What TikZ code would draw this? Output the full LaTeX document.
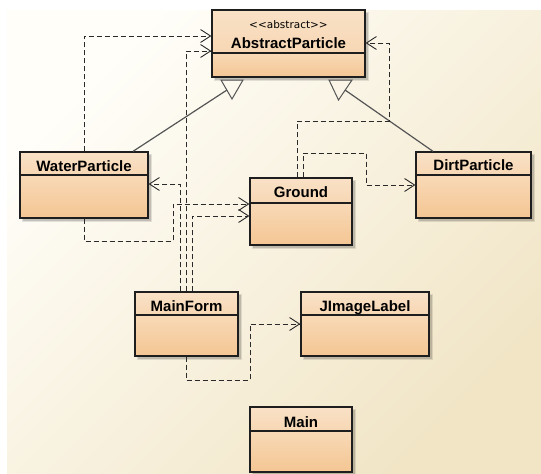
\documentclass[tikz,border=0pt]{standalone}
\usepackage{fontspec}
\setmainfont{Liberation Sans}
\newfontfamily\stereofont{DejaVu Sans}
\usetikzlibrary{arrows.meta}
\definecolor{bgA}{HTML}{FFFEF9}
\definecolor{bgB}{HTML}{F1E5C6}
\definecolor{headtop}{HTML}{F9E1C6}
\definecolor{headbot}{HTML}{F7D7B4}
\definecolor{bodytop}{HTML}{F8D9B7}
\definecolor{bodybot}{HTML}{F4C693}
\definecolor{boxc}{HTML}{1E1E1E}
\definecolor{depc}{HTML}{2A2A2A}
\definecolor{genc}{HTML}{555555}
\tikzset{
  dep/.style={depc, line width=0.9pt, dash pattern=on 5pt off 3pt,
    -{Straight Barb[length=10pt,width=13pt,line width=0.9pt]}},
  gen/.style={genc, line width=1.2pt},
  gentri/.style={genc, line width=1pt, line join=miter},
  namefont/.style={font=\fontsize{15}{17}\selectfont\bfseries, anchor=base, inner sep=0pt, text=black},
  stereo/.style={font=\stereofont\fontsize{10.5}{12}\selectfont, anchor=base, inner sep=0pt, text=black},
  classframe/.style={draw=boxc, line width=1.3pt, inner sep=0pt, fill=none}
}
% #1 name, #2 x1, #3 y1, #4 x2, #5 y2, #6 divider y, #7 baseline y, #8 label
\newcommand\umlclass[8]{%
  \fill[black,opacity=.10] (#2+1.5,#3+1.5) rectangle (#4+4,#5+4);
  \fill[black,opacity=.14] (#2+2.5,#3+2.5) rectangle (#4+2.5,#5+2.5);
  \shade[top color=bodytop, bottom color=bodybot] (#2,#6) rectangle (#4,#5);
  \shade[top color=headtop, bottom color=headbot] (#2,#3) rectangle (#4,#6);
  \draw[boxc, line width=1.2pt] (#2,#6) -- (#4,#6);
  \node[classframe, minimum width={#4pt-#2pt}, minimum height={#5pt-#3pt}] (#1) at ({(#2+#4)/2},{(#3+#5)/2}) {};
  \node[namefont] (#1-name) at ({(#2+#4)/2},#7) {#8};
}
\begin{document}
\begin{tikzpicture}[x=1pt,y=-1pt]
\useasboundingbox (0,0) rectangle (541,474);
\fill[white] (0,0) rectangle (541,474);
\shade[top color=bgA, bottom color=bgB, shading angle=45] (7,10) rectangle (541,474);

% classes
\umlclass{ap}{212}{10}{365}{77}{53}{48}{AbstractParticle}
\node[stereo] (ap-st) at (288.5,28) {<{}<abstract>{}>};
\umlclass{wp}{20}{152}{148}{218}{175}{171}{WaterParticle}
\umlclass{gr}{250}{178}{352}{245}{203}{197}{Ground}
\umlclass{dp}{416}{152}{531}{218}{175}{170}{DirtParticle}
\umlclass{mf}{135}{292}{238}{356}{315}{311}{MainForm}
\umlclass{jl}{301}{292}{429}{356}{315}{311}{JImageLabel}
\umlclass{mn}{250}{407}{352}{472}{431}{427}{Main}

% generalizations
\coordinate (t1) at (227,90);
\coordinate (t2) at (345,90);
\draw[gentri] (221,80) -- (243,80) -- (232,99) -- cycle;
\draw[gentri] (329,80) -- (352,80) -- (338.5,100) -- cycle;
\draw[gen] (133,0 |- wp.north) -- (t1);
\draw[gen] (433,0 |- dp.north) -- (t2);

% dependencies
\draw[dep] (84,0 |- wp.north) |- (ap.west |- 0,36);
\draw[dep] (186,0 |- mf.north) |- (ap.west |- 0,51);
\draw[dep] (180,0 |- mf.north) |- (wp.east |- 0,184);
\draw[dep] (192.5,0 |- mf.north) |- (gr.west |- 0,216);
\draw[dep] (84,0 |- wp.south) |- (173,241) |- (gr.west |- 0,204);
\draw[dep] (297,0 |- gr.north) |- (389,121) |- (ap.east |- 0,43);
\draw[dep] (303,0 |- gr.north) |- (366,153) |- (dp.west |- 0,185);
\draw[dep] (186,0 |- mf.south) |- (250,380) |- (jl.west |- 0,324);
\end{tikzpicture}
\end{document}
